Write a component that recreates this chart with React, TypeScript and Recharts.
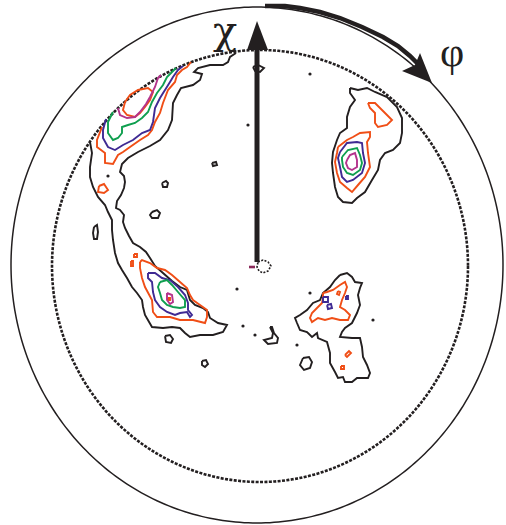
import { ScatterChart, Scatter, XAxis, YAxis, ReferenceDot } from 'recharts';

// plot units: the pole figure drawn on a 506 x 525 grid, y counted downwards
const W = 506;
const H = 525;

const BLACK = '#231f20';
const ORANGE = '#f04e16';
const BLUE = '#3f2a93';
const GREEN = '#0f9f4f';
const MAGENTA = '#b4338c';

// projection rims: outer frame and the chi = 90 measurement limit
const outerRim = { cx: 257, cy: 265, rx: 246, ry: 258 };
const limitRim = { cx: 260, cy: 266, rx: 208, ry: 216 };

// ---- level 1 (black) ----
const bandEdge = [
  [90, 142], [92, 153], [90, 167], [90, 177], [93, 187], [98, 197], [105, 205], [108, 212], [112, 220],
  [112, 230], [113, 240], [115, 253], [118, 263], [122, 270], [127, 278], [132, 287], [137, 293],
  [142, 300], [143, 307], [145, 315], [152, 327], [163, 328], [172, 327], [180, 328], [185, 333],
  [190, 337], [200, 335], [213, 335], [223, 332], [227, 325], [218, 323], [210, 318], [208, 312],
  [203, 308], [195, 305], [190, 300], [187, 290], [180, 287], [172, 281], [163, 273], [155, 266],
  [150, 258], [146, 252], [140, 247], [133, 243], [129, 236], [125, 228], [123, 222], [124, 215],
  [120, 210], [116, 208], [117, 201], [121, 195], [124, 188], [125, 182], [124, 176], [120, 172],
  [122, 164], [128, 158], [138, 152], [150, 146], [160, 140], [168, 130], [172, 120], [173, 103],
  [177, 95], [181, 88], [193, 85], [200, 80], [202, 74], [194, 72], [198, 68], [210, 65], [223, 65],
  [228, 62], [230, 57], [236, 53],
];
const eastBlack = [
  [350, 88], [358, 90], [367, 88], [375, 92], [387, 97], [397, 107], [402, 118], [402, 133], [400, 143],
  [393, 150], [385, 153], [380, 160], [378, 170], [372, 180], [365, 192], [357, 198], [352, 203],
  [343, 202], [338, 197], [335, 187], [333, 173], [332, 163], [333, 152], [337, 140], [340, 133],
  [347, 128], [347, 117], [350, 107], [355, 100], [350, 93],
];
const southEastBlack = [
  [340, 275], [347, 273], [352, 277], [355, 282], [362, 283], [360, 288], [358, 295], [360, 305],
  [357, 313], [352, 323], [345, 328], [342, 332], [340, 337], [352, 338], [360, 338], [362, 347],
  [363, 357], [367, 365], [370, 373], [368, 378], [357, 378], [352, 382], [345, 382], [343, 377],
  [338, 378], [335, 372], [330, 363], [330, 353], [327, 342], [318, 338], [317, 333], [312, 337],
  [307, 332], [300, 330], [297, 323], [295, 318], [300, 315], [307, 310], [313, 303], [320, 300],
  [323, 293], [330, 287], [335, 280],
];
const blackIslands = [
  [[152, 212], [157, 210], [160, 213], [158, 218], [152, 218], [150, 215]],
  [[162, 183], [166, 181], [168, 183], [167, 187], [163, 187]],
  [[94, 227], [97, 225], [98, 232], [97, 239], [94, 239], [93, 233]],
  [[165, 336], [170, 335], [173, 339], [171, 343], [166, 342]],
  [[202, 361], [206, 360], [208, 364], [205, 367], [202, 365]],
  [[212, 163], [216, 162], [217, 165], [213, 166]],
  [[253, 67], [258, 65], [264, 68], [260, 72], [255, 71]],
  [[270, 327], [273, 333], [272, 338], [264, 340], [268, 344], [277, 343], [278, 338], [274, 333], [272, 327]],
  [[303, 358], [309, 357], [312, 362], [310, 368], [304, 370], [300, 365]],
];
const blackDots = [
  [108, 176], [248, 125], [310, 74], [237, 289], [243, 326], [255, 335], [310, 293], [373, 320], [297, 345],
];
const poleRing = [[258, 262], [263, 260], [268, 262], [271, 266], [268, 271], [263, 273], [259, 271], [257, 267]];

// ---- level 2 (orange) ----
const northWestOrange = [
  [102, 127], [97, 140], [97, 147], [105, 153], [105, 163], [113, 164], [118, 155], [123, 152], [130, 147],
  [140, 140], [148, 135], [152, 130], [155, 122], [160, 113], [163, 103], [168, 90], [175, 82], [177, 75],
  [182, 70], [187, 67], [191, 62],
];
const orangeLoops = [
  [[125, 102], [130, 95], [138, 90], [148, 88], [153, 92], [150, 100], [145, 107], [140, 113], [135, 117], [127, 115], [123, 110]],
  [[99, 186], [104, 184], [108, 190], [104, 193], [98, 192]],
  [[338, 147], [347, 140], [353, 137], [360, 133], [370, 132], [370, 137], [367, 142], [368, 153], [370, 167],
    [365, 177], [358, 185], [352, 192], [347, 188], [340, 182], [337, 173], [335, 162], [337, 153]],
  [[368, 103], [375, 103], [382, 110], [387, 115], [392, 120], [387, 125], [378, 127], [375, 123], [375, 113], [370, 108]],
  [[140, 262], [142, 260], [150, 263], [157, 268], [165, 270], [172, 275], [180, 282], [187, 288], [190, 295],
    [193, 300], [200, 305], [207, 310], [207, 317], [205, 323], [193, 320], [180, 320], [170, 317], [157, 317],
    [153, 312], [152, 300], [145, 287], [142, 278], [140, 268]],
  [[134, 254], [137, 254], [137, 257], [134, 257]],
  [[131, 261], [133, 261], [133, 266], [131, 266]],
  [[168, 298], [170, 298], [170, 300], [168, 300]],
  [[323, 293], [327, 292], [333, 290], [340, 285], [345, 282], [347, 287], [345, 293], [342, 300], [340, 307],
    [345, 310], [350, 315], [348, 320], [340, 320], [332, 318], [325, 320], [318, 318], [312, 322], [310, 318],
    [312, 313], [317, 308], [322, 303], [323, 298]],
  [[338, 291], [340, 292], [339, 295], [337, 294]],
  [[345, 355], [349, 351], [351, 353], [347, 357]],
  [[341, 366], [344, 366], [344, 369], [341, 369]],
];

// ---- level 3 (blue) ----
const northWestBlue = [
  [106, 119], [103, 130], [103, 138], [108, 147], [115, 150], [123, 145], [133, 140], [142, 133], [150, 130],
  [153, 122], [155, 108], [160, 98], [165, 90], [170, 82], [173, 77], [178, 70], [183, 66],
];
const blueLoops = [
  [[340, 152], [347, 143], [357, 142], [362, 143], [363, 153], [365, 163], [362, 173], [353, 180], [347, 182],
    [342, 177], [340, 167], [338, 158]],
  [[148, 273], [155, 273], [162, 278], [170, 280], [178, 287], [185, 295], [188, 303], [188, 310], [192, 315],
    [190, 317], [187, 312], [180, 313], [175, 315], [167, 312], [160, 307], [155, 300], [153, 292], [152, 282], [148, 278]],
  [[323, 297], [328, 297], [328, 302], [323, 302]],
  [[327, 305], [331, 304], [332, 308], [328, 309]],
  [[346, 296], [348, 296], [348, 299], [346, 299]],
];

// ---- level 4 (green) ----
const northWestGreen = [
  [113, 112], [108, 122], [108, 133], [113, 140], [118, 138], [122, 133], [122, 127], [128, 125], [135, 123],
  [142, 118], [148, 112], [152, 102], [157, 93], [163, 85], [167, 77], [172, 72], [176, 68],
];
const greenLoops = [
  [[342, 157], [348, 150], [357, 148], [360, 155], [362, 163], [360, 170], [353, 175], [347, 173], [343, 167], [342, 160]],
  [[160, 282], [167, 280], [172, 285], [178, 292], [185, 300], [185, 307], [180, 308], [173, 307], [167, 305],
    [162, 300], [160, 293], [158, 287]],
];

// ---- level 5 (magenta) ----
const northWestMagenta = [
  [118, 108], [120, 115], [127, 118], [135, 117], [140, 112], [146, 104], [150, 97], [155, 87], [158, 78], [161, 75],
];
const magentaLoops = [
  [[347, 160], [350, 155], [355, 153], [357, 160], [357, 167], [352, 170], [348, 168], [346, 163]],
  [[167, 293], [172, 295], [173, 302], [170, 304], [167, 300]],
];

// axis arrows
const chiShaft = [[257, 262], [257, 45]];
const chiTip = [257, 21];
const phiArc = [
  [265, 6], [285, 6], [300, 8], [320, 12], [340, 18], [362, 27], [383, 37], [398, 46], [410, 56], [418, 64],
];
const phiTip = [432, 83];
const poleMark = [[249, 267], [255, 267]];

const toPts = (arr: number[][]) => arr.map(([x, y]) => ({ x, y }));
const loop = (arr: number[][]) => toPts([...arr, arr[0]]);

const rim = ({ cx, cy, rx, ry }: { cx: number; cy: number; rx: number; ry: number }) =>
  Array.from({ length: 361 }, (_, i) => {
    const t = (i / 360) * 2 * Math.PI;
    return { x: cx + rx * Math.cos(t), y: cy + ry * Math.sin(t) };
  });

const contours = [
  { id: 'band', data: toPts(bandEdge), color: BLACK },
  { id: 'eastBlack', data: loop(eastBlack), color: BLACK },
  { id: 'seBlack', data: loop(southEastBlack), color: BLACK },
  ...blackIslands.map((d, i) => ({ id: 'bi' + i, data: loop(d), color: BLACK })),
  { id: 'nwOrange', data: toPts(northWestOrange), color: ORANGE },
  ...orangeLoops.map((d, i) => ({ id: 'ol' + i, data: loop(d), color: ORANGE })),
  { id: 'nwBlue', data: toPts(northWestBlue), color: BLUE },
  ...blueLoops.map((d, i) => ({ id: 'bl' + i, data: loop(d), color: BLUE })),
  { id: 'nwGreen', data: toPts(northWestGreen), color: GREEN },
  ...greenLoops.map((d, i) => ({ id: 'gl' + i, data: loop(d), color: GREEN })),
  { id: 'nwMagenta', data: toPts(northWestMagenta), color: MAGENTA },
  ...magentaLoops.map((d, i) => ({ id: 'ml' + i, data: loop(d), color: MAGENTA })),
];

const noMarker = () => <g />;

const Dot = (p: any) => <circle cx={p.cx} cy={p.cy} r={1.6} fill={BLACK} />;

const ChiHead = (p: any) => (
  <polygon points={`${p.cx},${p.cy} ${p.cx + 11},${p.cy + 29} ${p.cx - 10},${p.cy + 29}`} fill={BLACK} />
);

const PhiHead = (p: any) => (
  <polygon
    points={`${p.cx},${p.cy} ${p.cx - 30},${p.cy - 12} ${p.cx - 17},${p.cy - 18} ${p.cx - 12},${p.cy - 30}`}
    fill={BLACK}
  />
);

const glyph = (ch: string, size: number, family: string) => (p: any) => (
  <text x={p.cx} y={p.cy} textAnchor="middle" fontSize={size} fontFamily={family} fill={BLACK}>
    {ch}
  </text>
);

export default function App() {
  return (
    <div style={{ position: 'absolute', left: 0, top: 0, background: '#fff' }}>
      <ScatterChart width={W} height={H} margin={{ top: 0, right: 0, bottom: 0, left: 0 }}>
        <XAxis type="number" dataKey="x" domain={[0, W]} hide allowDataOverflow />
        <YAxis type="number" dataKey="y" domain={[0, H]} reversed hide allowDataOverflow />

        <Scatter data={rim(outerRim)} fill={BLACK} line={{ stroke: BLACK, strokeWidth: 1.5 }} shape={noMarker} isAnimationActive={false} />
        <Scatter
          data={rim(limitRim)}
          fill={BLACK}
          line={{ stroke: BLACK, strokeWidth: 2.6, strokeDasharray: '3 1.4' }}
          shape={noMarker}
          isAnimationActive={false}
        />

        {contours.map((c) => (
          <Scatter
            key={c.id}
            data={c.data}
            fill={c.color}
            line={{ stroke: c.color, strokeWidth: 1.9 }}
            shape={noMarker}
            isAnimationActive={false}
          />
        ))}

        <Scatter
          data={loop(poleRing)}
          fill={BLACK}
          line={{ stroke: BLACK, strokeWidth: 1.6, strokeDasharray: '2 1.5' }}
          shape={noMarker}
          isAnimationActive={false}
        />
        <Scatter data={toPts(poleMark)} fill={BLUE} line={{ stroke: '#8a2a5a', strokeWidth: 2.6 }} shape={noMarker} isAnimationActive={false} />
        <Scatter data={toPts(blackDots)} fill={BLACK} shape={Dot} isAnimationActive={false} />

        {/* chi axis arrow */}
        <Scatter data={toPts(chiShaft)} fill={BLACK} line={{ stroke: BLACK, strokeWidth: 5 }} shape={noMarker} isAnimationActive={false} />
        <Scatter data={toPts([chiTip])} fill={BLACK} shape={ChiHead} isAnimationActive={false} />

        {/* phi rotation arrow */}
        <Scatter data={toPts(phiArc)} fill={BLACK} line={{ stroke: BLACK, strokeWidth: 4.5 }} shape={noMarker} isAnimationActive={false} />
        <Scatter data={toPts([phiTip])} fill={BLACK} shape={PhiHead} isAnimationActive={false} />

        <ReferenceDot x={225} y={44} r={0} shape={glyph('χ', 40, "'DejaVu Serif', serif")} />
        <ReferenceDot x={452} y={66} r={0} shape={glyph('φ', 42, "'Liberation Serif', serif")} />
      </ScatterChart>
    </div>
  );
}
